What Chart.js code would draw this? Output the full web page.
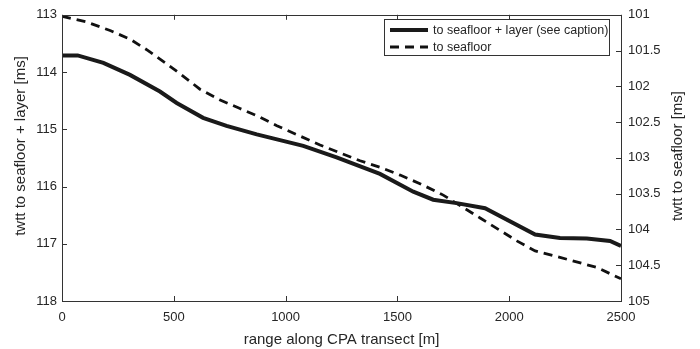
<!DOCTYPE html>
<html>
<head>
<meta charset="utf-8">
<script src="https://cdn.jsdelivr.net/npm/chart.js@4.4.1/dist/chart.umd.min.js"></script>
<style>
  html, body { margin: 0; padding: 0; background: #fff; }
  #wrap { width: 700px; height: 349px; }
</style>
</head>
<body>
<div id="wrap"><canvas id="chart" width="700" height="349"></canvas></div>
<script>
// range along transect [m] and twtt [ms]
const rangeLayer = [0, 70, 185, 304, 438, 513, 631, 736, 871, 1079, 1228, 1422, 1571, 1660, 1765, 1892, 2116, 2227, 2347, 2451, 2500];
const twttLayer  = [113.71, 113.71, 113.84, 114.05, 114.34, 114.54, 114.80, 114.94, 115.09, 115.29, 115.49, 115.78, 116.09, 116.23, 116.29, 116.38, 116.84, 116.90, 116.91, 116.95, 117.04];

const rangeFloor = [0, 110, 215, 304, 385, 461, 535, 617, 707, 796, 878, 961, 1154, 1333, 1422, 1512, 1601, 1705, 1870, 2034, 2116, 2227, 2391, 2500];
const twttFloor  = [101.02, 101.10, 101.22, 101.34, 101.50, 101.67, 101.84, 102.04, 102.19, 102.31, 102.42, 102.55, 102.82, 103.04, 103.13, 103.24, 103.36, 103.52, 103.84, 104.16, 104.30, 104.39, 104.53, 104.69];

const xTicks = [0, 500, 1000, 1500, 2000, 2500];
const leftTicks = [113, 114, 115, 116, 117, 118];
const rightTicks = [101, 101.5, 102, 102.5, 103, 103.5, 104, 104.5, 105];

const seriesLabels = ['to seafloor + layer (see caption)', 'to seafloor'];
const xTitle = 'range along CPA transect [m]';
const leftTitle = 'twtt to seafloor + layer [ms]';
const rightTitle = 'twtt to seafloor [ms]';

const INK = '#262626';
const FONT = '"Liberation Sans", Arial, sans-serif';

const toPts = (xs, ys) => xs.map((x, i) => ({ x, y: ys[i] }));
const plainNum = v => String(v);

function vertText(ctx, text, x, y){
  ctx.save();
  ctx.translate(x, y);
  ctx.rotate(-Math.PI / 2);
  ctx.fillText(text, 0, 0);
  ctx.restore();
}

/* ---------- inward ticks, frame, y titles, legend ---------- */
const matlabLook = {
  id: 'matlabLook',
  afterDatasetsDraw(chart) {
    const { ctx, chartArea: a, scales } = chart;
    const len = 5;
    ctx.save();
    ctx.strokeStyle = '#333';
    ctx.lineWidth = 1;
    ctx.beginPath();
    scales.x.ticks.forEach(t => {
      const px = Math.round(scales.x.getPixelForValue(t.value)) + 0.5;
      ctx.moveTo(px, a.bottom); ctx.lineTo(px, a.bottom - len);
      ctx.moveTo(px, a.top); ctx.lineTo(px, a.top + len);
    });
    scales.y.ticks.forEach(t => {
      const py = Math.round(scales.y.getPixelForValue(t.value)) + 0.5;
      ctx.moveTo(a.left, py); ctx.lineTo(a.left + len, py);
    });
    scales.y2.ticks.forEach(t => {
      const py = Math.round(scales.y2.getPixelForValue(t.value)) + 0.5;
      ctx.moveTo(a.right, py); ctx.lineTo(a.right - len, py);
    });
    ctx.stroke();
    ctx.strokeRect(Math.round(a.left) + 0.5, Math.round(a.top) + 0.5,
      Math.round(a.right - a.left), Math.round(a.bottom - a.top));

    // both y titles read bottom to top
    ctx.fillStyle = INK;
    ctx.font = '15px ' + FONT;
    ctx.textAlign = 'center';
    ctx.textBaseline = 'middle';
    vertText(ctx, leftTitle, 21, 146);
    vertText(ctx, rightTitle, 678, 156);
    ctx.restore();

    // legend box in the upper right corner
    const bx = 384, by = 19, bw = 225, bh = 36;
    ctx.save();
    ctx.fillStyle = '#fff';
    ctx.fillRect(bx, by, bw, bh);
    ctx.strokeStyle = '#333';
    ctx.lineWidth = 1;
    ctx.strokeRect(bx + 0.5, by + 0.5, bw, bh);
    ctx.font = '12.5px ' + FONT;
    ctx.textBaseline = 'middle';
    ctx.textAlign = 'left';
    chart.data.datasets.forEach((ds, i) => {
      const ly = by + 11 + i * 17;
      ctx.strokeStyle = ds.borderColor;
      ctx.lineWidth = ds.borderWidth;
      ctx.setLineDash(ds.borderDash || []);
      ctx.beginPath();
      ctx.moveTo(bx + 6, ly);
      ctx.lineTo(bx + 44, ly);
      ctx.stroke();
      ctx.setLineDash([]);
      ctx.fillStyle = INK;
      ctx.fillText(ds.label, bx + 49, ly + 1);
    });
    ctx.restore();
  }
};

new Chart(document.getElementById('chart'), {
  type: 'line',
  data: {
    datasets: [
      {
        label: seriesLabels[0],
        data: toPts(rangeLayer, twttLayer),
        yAxisID: 'y',
        borderColor: '#1a1a1a',
        borderWidth: 4,
        pointRadius: 0,
        tension: 0,
        fill: false
      },
      {
        label: seriesLabels[1],
        data: toPts(rangeFloor, twttFloor),
        yAxisID: 'y2',
        borderColor: '#111',
        borderWidth: 2.8,
        borderDash: [9, 6],
        borderCapStyle: 'butt',
        pointRadius: 0,
        tension: 0,
        fill: false
      }
    ]
  },
  options: {
    responsive: false,
    devicePixelRatio: 1,
    animation: false,
    layout: { padding: { top: 10, left: 0, right: 0, bottom: 0 } },
    plugins: { legend: { display: false }, tooltip: { enabled: false } },
    scales: {
      x: {
        type: 'linear',
        min: 0, max: 2500,
        afterBuildTicks: s => { s.ticks = xTicks.map(v => ({ value: v })); },
        afterFit: s => { s.height = 48; },
        grid: { display: false, drawTicks: false },
        border: { display: false },
        ticks: { color: INK, font: { family: FONT, size: 13 }, padding: 9, maxRotation: 0, callback: plainNum },
        title: { display: true, text: xTitle, color: INK, font: { family: FONT, size: 15 }, padding: { top: 0, bottom: 0 } }
      },
      y: {
        type: 'linear',
        position: 'left',
        reverse: true,
        min: 113, max: 118,
        afterBuildTicks: s => { s.ticks = leftTicks.map(v => ({ value: v })); },
        afterFit: s => { s.width = 62; },
        grid: { display: false, drawTicks: false },
        border: { display: false },
        ticks: { color: INK, font: { family: FONT, size: 13 }, padding: 5, callback: plainNum }
      },
      y2: {
        type: 'linear',
        position: 'right',
        reverse: true,
        min: 101, max: 105,
        afterBuildTicks: s => { s.ticks = rightTicks.map(v => ({ value: v })); },
        afterFit: s => { s.width = 79; },
        grid: { display: false, drawTicks: false },
        border: { display: false },
        ticks: { color: INK, font: { family: FONT, size: 13 }, padding: 7, callback: plainNum }
      }
    }
  },
  plugins: [matlabLook]
});
</script>
</body>
</html>
